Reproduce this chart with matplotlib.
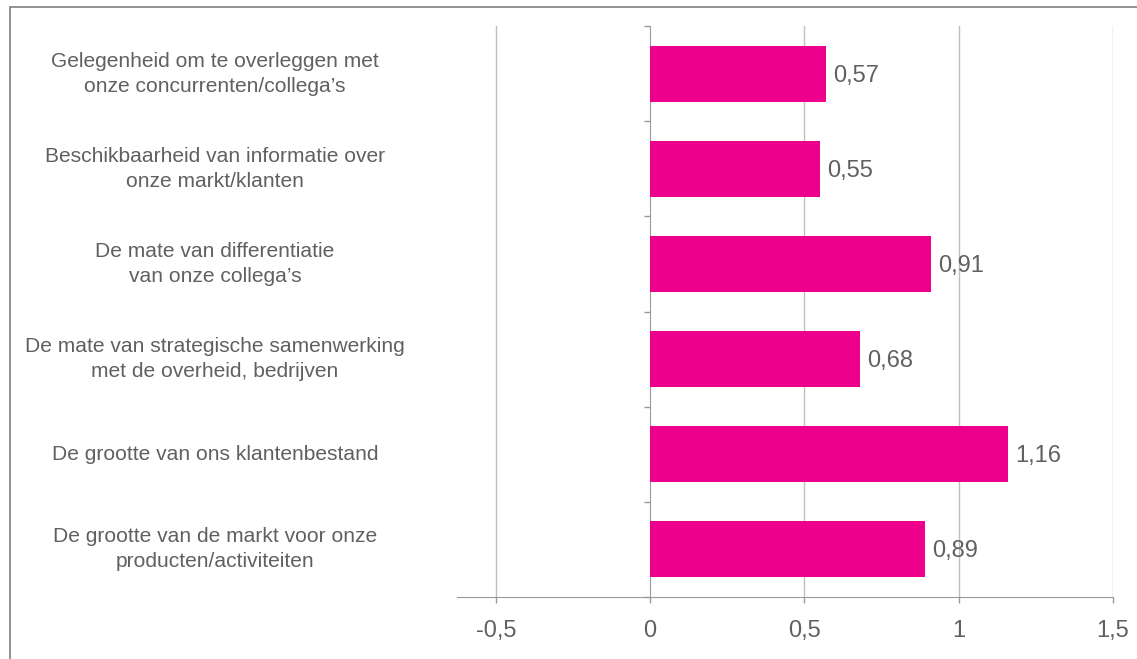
import matplotlib.pyplot as plt
import matplotlib
from matplotlib.patches import Rectangle

plt.rcParams['font.family'] = ['Liberation Sans', 'DejaVu Sans']

# data, top to bottom as in the chart
categories = [
    "Gelegenheid om te overleggen met\nonze concurrenten/collega’s",
    "Beschikbaarheid van informatie over\nonze markt/klanten",
    "De mate van differentiatie\nvan onze collega’s",
    "De mate van strategische samenwerking\nmet de overheid, bedrijven",
    "De grootte van ons klantenbestand",
    "De grootte van de markt voor onze\nproducten/activiteiten",
]
values = [0.57, 0.55, 0.91, 0.68, 1.16, 0.89]
xticks = [-0.5, 0, 0.5, 1, 1.5]
xtick_labels = ["-0,5", "0", "0,5", "1", "1,5"]

pink = '#EC008C'
text_col = '#606060'
grid_col = '#BFBFBF'
axis_col = '#9A9A9A'

W, H = 1137, 659
fig = plt.figure(figsize=(W / 100, H / 100), dpi=100)
ax = fig.add_axes([457 / W, 1 - 597 / H, (1113 - 457) / W, (597 - 26) / H])

n = len(categories)
ypos = list(range(n))[::-1]
ax.barh(ypos, values, height=0.59, color=pink, zorder=3)
ax.set_ylim(-0.5, n - 0.5)
ax.set_xlim(-0.626, 1.5)

# value labels
for y, v in zip(ypos, values):
    ax.annotate(f"{v:.2f}".replace('.', ','), (v, y), xytext=(7, -2),
                textcoords='offset pixels', va='center', ha='left',
                fontsize=17, color=text_col, zorder=4)

# grid lines
for t in xticks:
    if t != 0:
        ax.axvline(t, color=grid_col, lw=1, zorder=1)

ax.set_xticks(xticks)
ax.set_xticklabels(xtick_labels)
ax.tick_params(axis='x', length=4.5, width=1, color=axis_col, pad=12,
               labelsize=17, labelcolor=text_col)

# y axis at x=0 with ticks at category boundaries
ax.spines['left'].set_position(('data', 0))
ax.set_yticks([i - 0.5 for i in range(n + 1)])
ax.set_yticklabels([])
ax.tick_params(axis='y', length=4.5, width=1, color=axis_col)
for s in ['top', 'right']:
    ax.spines[s].set_visible(False)
ax.spines['left'].set_color(axis_col)
ax.spines['bottom'].set_color(axis_col)

# category labels, left side
for y, c in zip(ypos, categories):
    yfig = ax.transData.transform((0, y))[1] / fig.dpi / fig.get_figheight()
    fig.text(215 / W, yfig, c, ha='center', va='center', fontsize=15.1,
             color=text_col, linespacing=1.4)

# outer frame
fig.patches.append(Rectangle((10 / W, -0.1), 1.2, 1 - 7 / H + 0.1,
                             transform=fig.transFigure, fill=False,
                             edgecolor='#808080', lw=1.2))

fig.savefig('out.png', dpi=100)
